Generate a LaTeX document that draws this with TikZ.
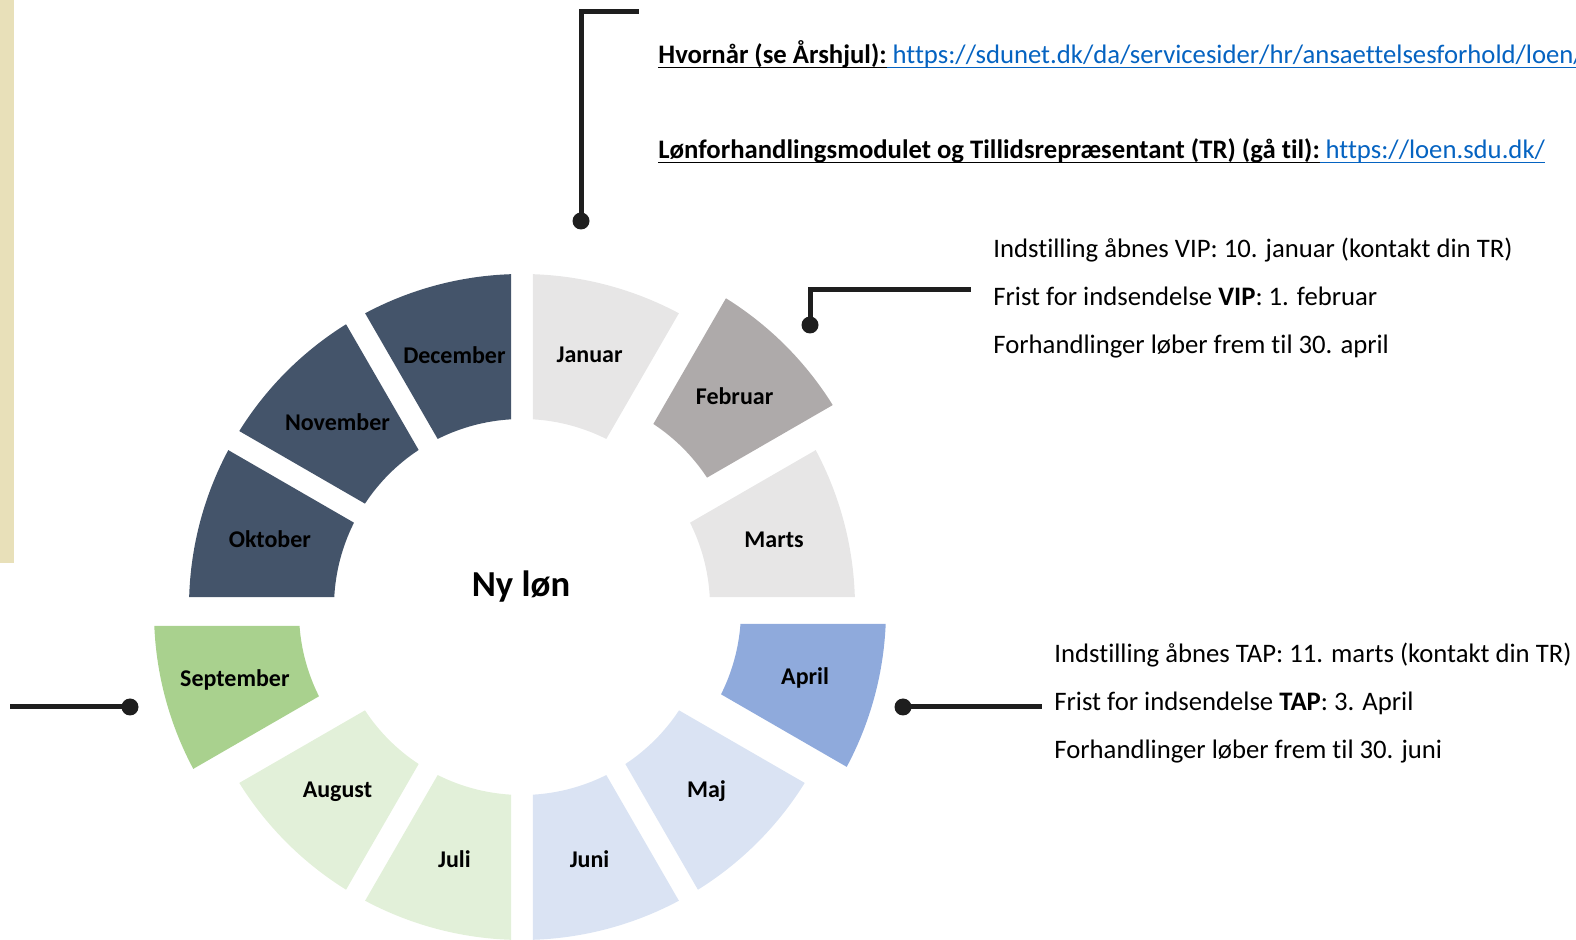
\documentclass[tikz,border=0pt]{standalone}
\usepackage{fontspec}
\setmainfont{Carlito}[Ligatures=NoCommon]
\usetikzlibrary{positioning}

\definecolor{navy}{HTML}{44546A}
\definecolor{lightgrey}{HTML}{E7E6E6}
\definecolor{midgrey}{HTML}{AEAAAA}
\definecolor{aprilblue}{HTML}{8FAADC}
\definecolor{paleblue}{HTML}{DAE3F3}
\definecolor{septgreen}{HTML}{A9D18E}
\definecolor{palegreen}{HTML}{E2F0D9}
\definecolor{linkblue}{HTML}{0563C1}
\definecolor{calloutblack}{HTML}{1E1E1E}
\definecolor{sidebar}{HTML}{E8E0B9}

\newcommand\lineunder[1]{\setbox0\hbox{#1}\rlap{\rule[-2.2pt]{\wd0}{0.8pt}}\box0}

\begin{document}
\begin{tikzpicture}[
		  x=0.5pt, y=0.5pt,
		  monthlabel/.style={font=\bfseries\fontsize{12}{14}\selectfont, text=black, inner sep=0pt},
		  info/.style={inner sep=0pt, font=\fontsize{13.35}{15}\selectfont},
		  callout/.style={draw=calloutblack, line width=2.5pt},
		  dot/.style={circle, fill=calloutblack, inner sep=0pt, minimum size=8.5pt}
		]
		\useasboundingbox (0,0) rectangle (1576,-940);
		\fill[sidebar] (0,0) rectangle (14,-563);
		
		% year wheel: start angle / gap before / gap after / colour / offset / month
		\coordinate (hub) at (522,-607);
		\foreach \a/\gs/\ge/\col/\sx/\sy/\month in {
		    0/10/11/lightgrey/0/0/Marts,
		    30/11/11/midgrey/28/26/Februar,
		    60/11/11/lightgrey/0/0/Januar,
		    90/11/11/navy/0/0/December,
		    120/11/11/navy/0/0/November,
		    150/11/10/navy/0/0/Oktober,
		    180/14/11/septgreen/-35/-5/September,
		    210/11/11/palegreen/0/0/August,
		    240/11/11/palegreen/0/0/Juli,
		    270/11/11/paleblue/0/0/Juni,
		    300/11/11/paleblue/0/0/Maj,
		    330/11/14/aprilblue/31/-3/April}
		{
		  \pgfmathsetmacro\oa{\a+asin(\gs/333)}
		  \pgfmathsetmacro\ob{\a+30-asin(\ge/333)}
		  \pgfmathsetmacro\ia{\a+asin(\gs/188)}
		  \pgfmathsetmacro\ib{\a+30-asin(\ge/188)}
		  \begin{scope}[shift={(hub)}, shift={(\sx,\sy)}]
		    \fill[\col] (\oa:333) arc[start angle=\oa, end angle=\ob, radius=333]
		      -- (\ib:188) arc[start angle=\ib, end angle=\ia, radius=188] -- cycle;
		    \node[monthlabel] (m-\month) at (\a+15:261) {\month};
		  \end{scope}
		}
		\node[font=\bfseries\fontsize{18.3}{20}\selectfont, anchor=base] (title) at (521,-597) {Ny løn};
		
		\node[info, anchor=base west] (when) at (658,-64)
		  {\lineunder{\bfseries Hvornår (se Årshjul):}{\color{linkblue}\lineunder{\ https://sdunet.dk/da/servicesider/hr/ansaettelsesforhold/loen/}}};
		\node[info, below=47.5pt of when.base west, anchor=base west] (tools)
		  {\lineunder{\bfseries Lønforhandlingsmodulet og Tillidsrepræsentant (TR) (gå til):}{\color{linkblue}\lineunder{\ https://loen.sdu.dk/}}};
		
		\node[info, anchor=base west] (vip1) at (993,-258) {Indstilling åbnes VIP: 10. januar (kontakt din TR)};
		\node[info, below=24pt of vip1.base west, anchor=base west] (vip2) {Frist for indsendelse \textbf{VIP}: 1. februar};
		\node[info, below=24pt of vip2.base west, anchor=base west] (vip3) {Forhandlinger løber frem til 30. april};
		
		\node[info, anchor=base west] (tap1) at (1054,-663) {Indstilling åbnes TAP: 11. marts (kontakt din TR)};
		\node[info, below=24pt of tap1.base west, anchor=base west] (tap2) {Frist for indsendelse \textbf{TAP}: 3. April};
		\node[info, below=24pt of tap2.base west, anchor=base west] (tap3) {Forhandlinger løber frem til 30. juni};
		
		\node[dot] (janDot) at (581,-221) {};
		\coordinate (janEnd) at (639,-12);
		\draw[callout] (janDot.center) |- (janEnd);
		
		\node[dot] (febDot) at (810,-325) {};
		\coordinate (febEnd) at (971,-290);
		\draw[callout] (febDot.center) |- (febEnd);
		
		\node[dot] (aprDot) at (903,-707) {};
		\coordinate (aprEnd) at (1042,-707);
		\draw[callout] (aprDot.center) -- (aprEnd);
		
		\node[dot] (sepDot) at (130,-707) {};
		\coordinate (sepEnd) at (10,-707);
		\draw[callout] (sepEnd) -- (sepDot.center);
		\end{tikzpicture}
\end{document}
